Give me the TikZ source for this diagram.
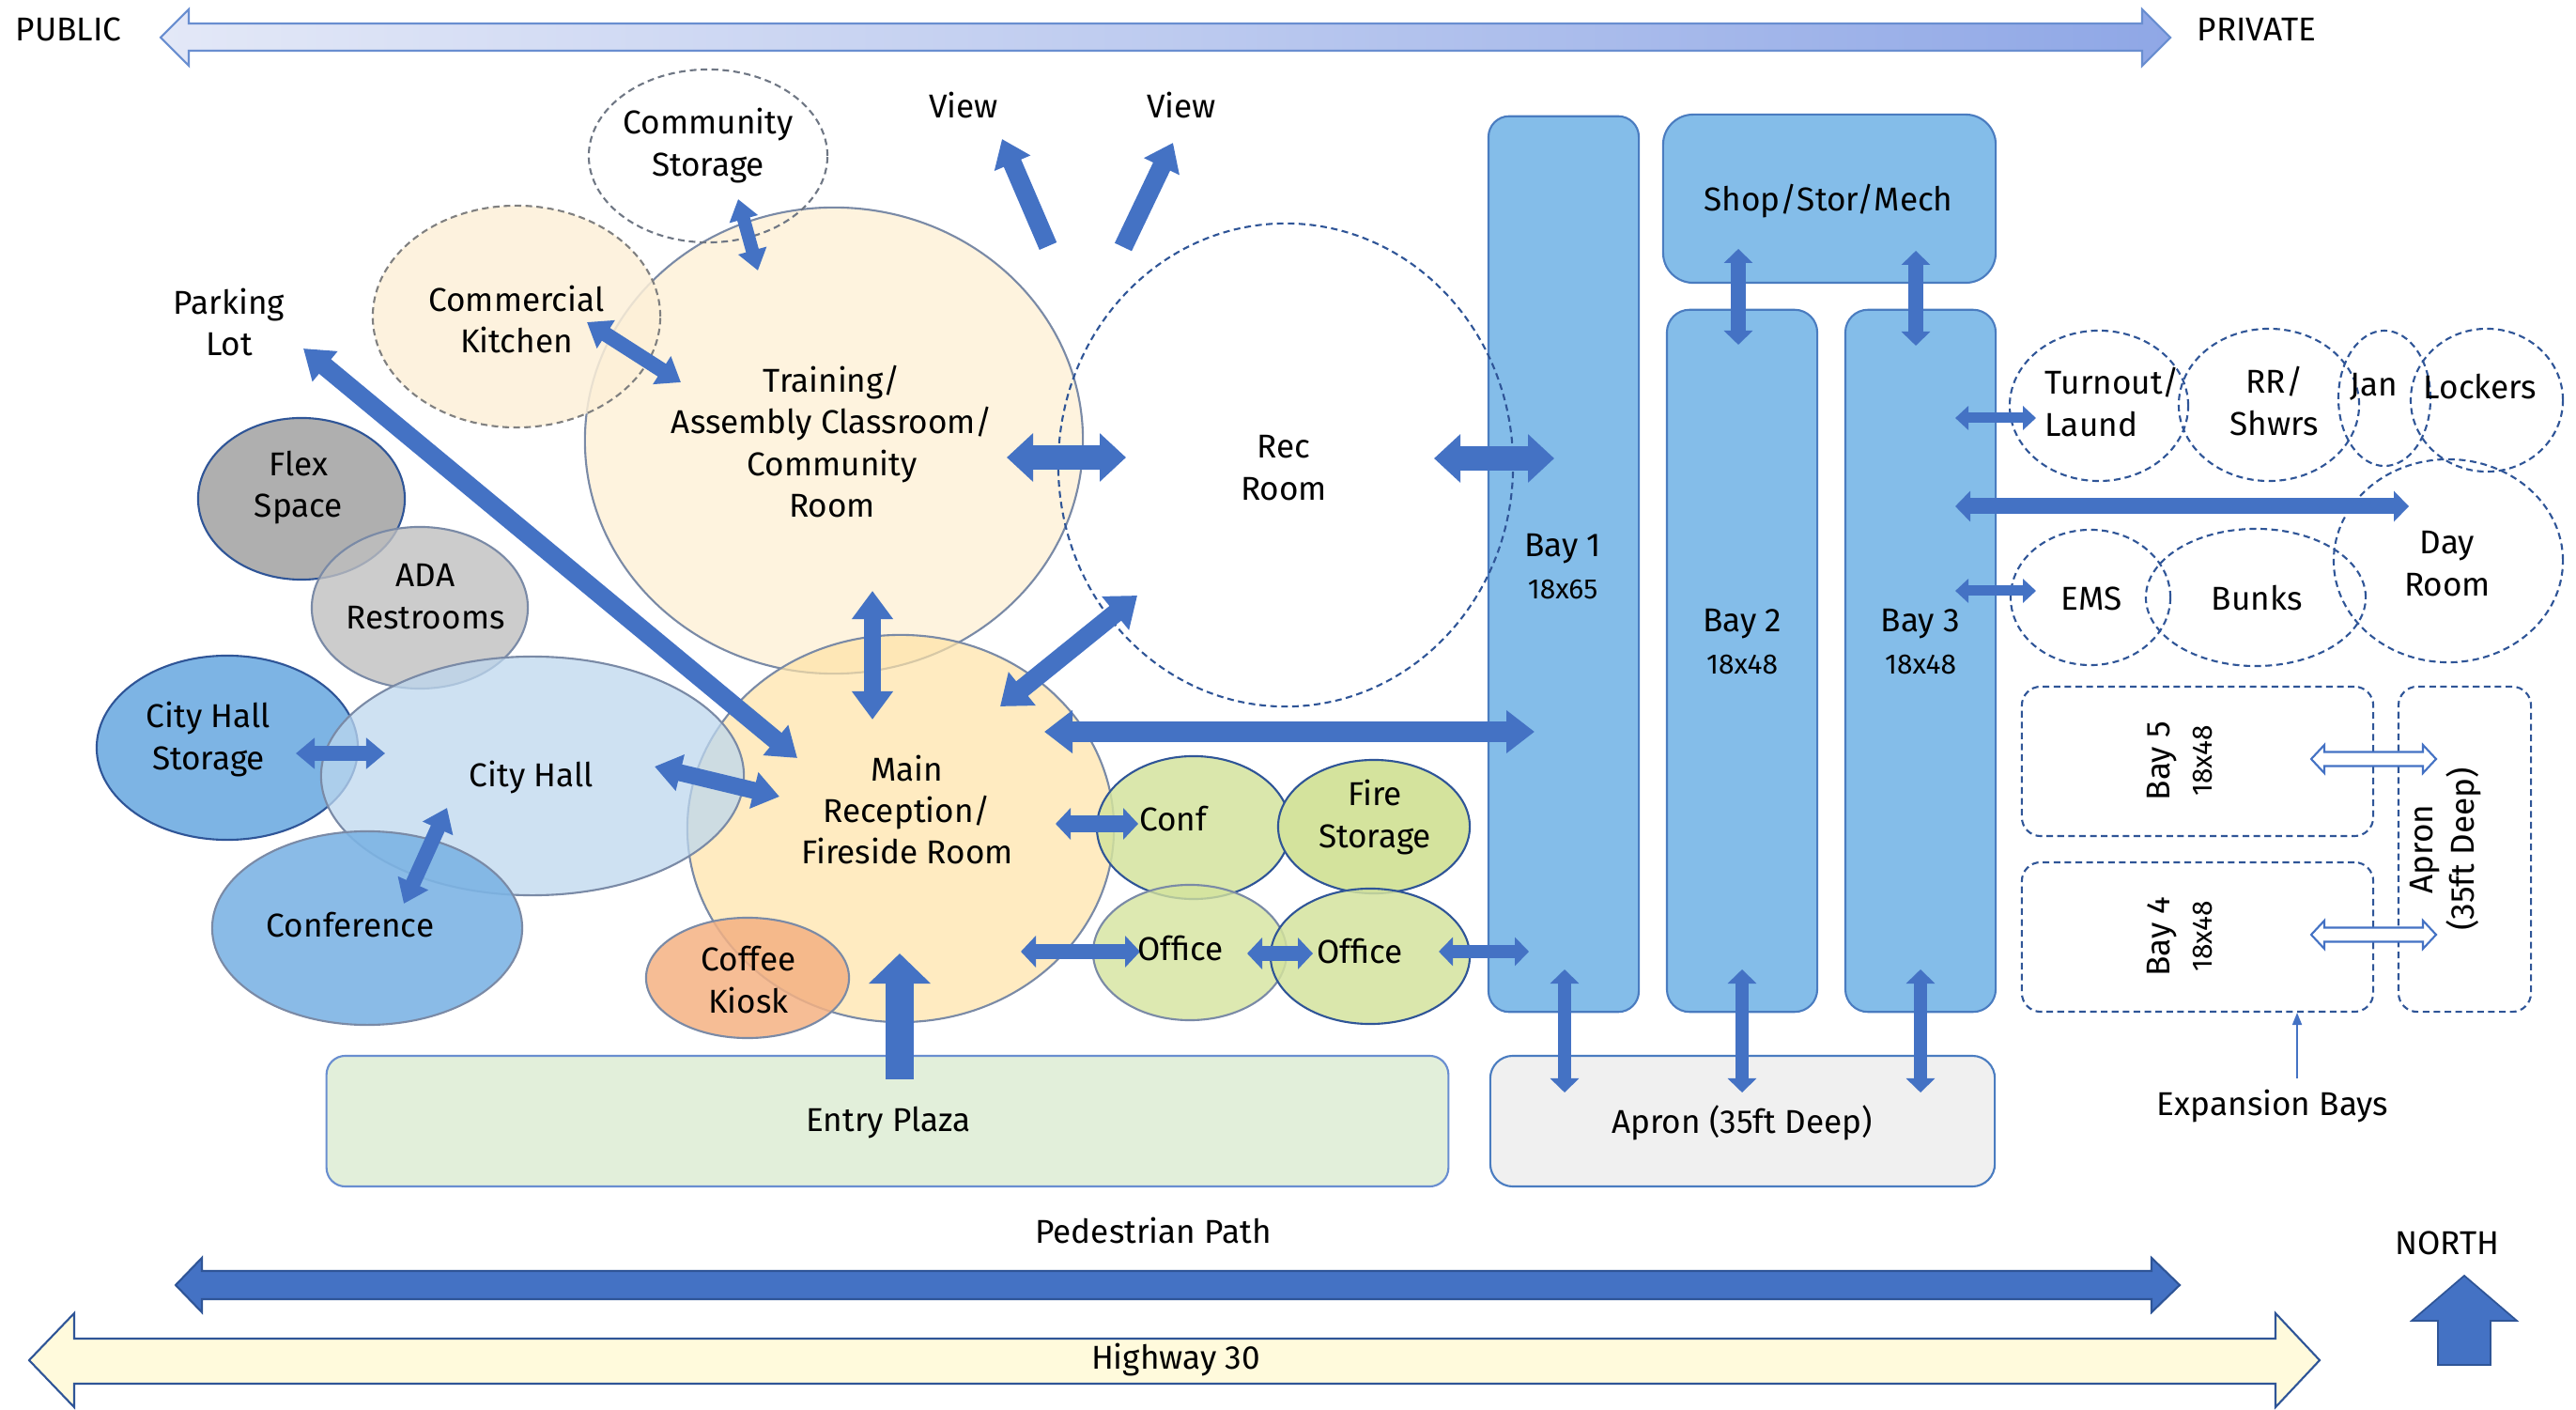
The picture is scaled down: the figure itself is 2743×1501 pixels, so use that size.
\documentclass[tikz,border=0pt]{standalone}
\usepackage{fontspec}
\setmainfont{Fira Sans}
\usetikzlibrary{shapes.geometric,arrows.meta,calc}
\definecolor{ab}{HTML}{4472C4}
\definecolor{edge}{HTML}{7A8AA6}
\definecolor{dk}{HTML}{2F5597}
\definecolor{bayf}{HTML}{84BDE9}
\definecolor{bayd}{HTML}{4A7CC0}
\definecolor{trainf}{HTML}{FEF3DE}
\definecolor{mainf}{HTML}{FFE3A6}
\definecolor{kitf}{HTML}{FDF0D8}
\definecolor{flexf}{HTML}{A6A6A6}
\definecolor{adaf}{HTML}{BFBFBF}
\definecolor{chsf}{HTML}{7DB4E4}
\definecolor{chf}{HTML}{BDD7EE}
\definecolor{coff}{HTML}{F4B183}
\definecolor{grn}{HTML}{D4E39D}
\definecolor{entf}{HTML}{E2EFDA}
\definecolor{aprf}{HTML}{F0F0F0}
\definecolor{hwy}{HTML}{FFFADC}
\definecolor{gl}{HTML}{E3E8F7}
\definecolor{gr}{HTML}{8FA7E6}
\tikzset{
  ell/.style={ellipse, draw=edge, line width=0.6pt},
  dell/.style={ellipse, draw=#1, line width=0.6pt, dash pattern=on 2pt off 1.3pt},
  box/.style={rectangle, draw=bayd, line width=0.6pt},
  dbox/.style={rectangle, draw=dk, line width=0.6pt, dash pattern=on 2pt off 1.3pt, rounded corners=2mm},
  dbl/.style n args={3}{draw=ab, line width=#1, arrows={Triangle[length=#3,width=#2]-Triangle[length=#3,width=#2]}},
  sgl/.style n args={3}{draw=ab, line width=#1, arrows={-Triangle[length=#3,width=#2]}},
  outarr/.style={draw=ab, fill=white, line width=0.6pt, line join=miter},
  txt/.style={font=\fontsize{10}{12.6}\selectfont}
}
\newcommand\smallnum{\fontsize{8.5}{11}\selectfont}
\begin{document}
\begin{tikzpicture}[x=0.01cm,y=-0.01cm, every node/.style={inner sep=0pt, align=center, txt}]
\useasboundingbox (0,0) rectangle (2743,1501);

% ---- public/private gradient arrow
\draw[draw=ab!80, line width=0.6pt, left color=gl, right color=gr, middle color=gl!55!gr]
  (171,40) -- (201,10) -- (201,25) -- (2281,25) -- (2281,10) -- (2311,40) -- (2281,70) -- (2281,54) -- (201,54) -- (201,70) -- cycle;
\node (tPublic) at (73,31) {PUBLIC};
\node (tPrivate) at (2403,31) {PRIVATE};

% ---- ground rectangles
\node[box, draw=ab!80, fill=entf, rounded corners=2mm, minimum width=119.4mm, minimum height=13.9mm] (entry) at (945,1193.5) {};
\node[box, fill=aprf, rounded corners=2.4mm, minimum width=53.7mm, minimum height=13.9mm] (apron) at (1855.5,1193.5) {};

% ---- bays
\node[box, fill=bayf, rounded corners=2.2mm, minimum width=16mm, minimum height=95.3mm] (bay1) at (1665,600.5) {};
\node[box, fill=bayf, rounded corners=3.2mm, minimum width=35.4mm, minimum height=17.9mm] (shop) at (1948,211.5) {};
\node[box, fill=bayf, rounded corners=2.4mm, minimum width=16mm, minimum height=74.7mm] (bay2) at (1855,703.5) {};
\node[box, fill=bayf, rounded corners=2.4mm, minimum width=16mm, minimum height=74.7mm] (bay3) at (2045,703.5) {};

% ---- community side
\node[ell, fill=trainf, minimum width=53mm, minimum height=49.6mm] (train) at (888,469) {};
\node[dell=gray, fill=kitf, fill opacity=0.85, minimum width=30.6mm, minimum height=23.6mm] (kitchen) at (550,337) {};
\node[dell=gray!80!dk, minimum width=25.4mm, minimum height=18.4mm] (commst) at (754,166) {};
\node[ell, fill=mainf, fill opacity=0.7, minimum width=45.4mm, minimum height=41.2mm] (main) at (959,882) {};
\node[dell=dk, minimum width=48.4mm, minimum height=51.4mm] (rec) at (1369,495) {};

\node[ell, draw=dk, fill=flexf, fill opacity=0.9, minimum width=22mm, minimum height=17.2mm] (flex) at (321,531) {};
\node[ell, fill=adaf, fill opacity=0.8, minimum width=23mm, minimum height=17.2mm] (ada) at (447,647) {};
\node[ell, draw=dk, fill=chsf, minimum width=27.8mm, minimum height=19.6mm] (chstor) at (242,796) {};
\node[ell, fill=chf, fill opacity=0.75, minimum width=45mm, minimum height=25.4mm] (cityhall) at (567,826) {};
\node[ell, fill=chsf, fill opacity=0.9, minimum width=33mm, minimum height=20.6mm] (conference) at (391,988) {};
\node[ell, fill=coff, fill opacity=0.85, minimum width=21.6mm, minimum height=12.8mm] (coffee) at (796,1041) {};

\node[ell, draw=dk, fill=grn, fill opacity=0.85, minimum width=20.6mm, minimum height=15.2mm] (conf) at (1271,881) {};
\node[ell, draw=dk, fill=grn, minimum width=20.4mm, minimum height=14.2mm] (firest) at (1463,880) {};
\node[ell, fill=grn, fill opacity=0.8, minimum width=20.6mm, minimum height=14.4mm] (office1) at (1267,1014) {};
\node[ell, draw=dk, fill=grn, fill opacity=0.85, minimum width=21.2mm, minimum height=14.4mm] (office2) at (1459,1018) {};

% ---- fire station side rooms
\node[dell=dk, minimum width=19mm, minimum height=16mm] (turnout) at (2235,432) {};
\node[dell=dk, minimum width=19.2mm, minimum height=16.2mm] (rr) at (2416,431) {};
\node[dell=dk, minimum width=9.8mm, minimum height=14.4mm] (jan) at (2539,424) {};
\node[dell=dk, minimum width=16.2mm, minimum height=15.2mm] (lockers) at (2648,426) {};
\node[dell=dk, minimum width=24.4mm, minimum height=21.6mm] (dayroom) at (2607,597) {};
\node[dell=dk, minimum width=17mm, minimum height=14.4mm] (ems) at (2226,636) {};
\node[dell=dk, minimum width=23.4mm, minimum height=14.6mm] (bunks) at (2402,636) {};

\node[dbox, minimum width=37.4mm, minimum height=15.9mm] (bay5) at (2340,810.5) {};
\node[dbox, minimum width=37.4mm, minimum height=15.9mm] (bay4) at (2340,997.5) {};
\node[dbox, minimum width=14.1mm, minimum height=34.6mm] (apronv) at (2624.5,904) {};

% ---- connector end points
\coordinate (a1s) at (786,212); \coordinate (a1e) at (807,288);
\coordinate (a2s) at (625,343); \coordinate (a2e) at (725,407);
\coordinate (a3s) at (323,371); \coordinate (a3e) at (849,807);
\coordinate (v1s) at (1116,262); \coordinate (v1e) at (1067,148);
\coordinate (v2s) at (1196,263); \coordinate (v2e) at (1249,152);
\coordinate (a6s) at (1072,487); \coordinate (a6e) at (1199,487);
\coordinate (a7s) at (1527,488); \coordinate (a7e) at (1655,488);
\coordinate (a8s) at (929,629); \coordinate (a8e) at (929,766);
\coordinate (a9s) at (1065,752); \coordinate (a9e) at (1211,634);
\coordinate (a10s) at (1112,779); \coordinate (a10e) at (1634,779);
\coordinate (a11s) at (315,802); \coordinate (a11e) at (410,802);
\coordinate (a12s) at (476,860); \coordinate (a12e) at (430,962);
\coordinate (a13s) at (697,816); \coordinate (a13e) at (830,848);
\coordinate (a14s) at (1124,877); \coordinate (a14e) at (1212,877);
\coordinate (a15s) at (1087,1013); \coordinate (a15e) at (1214,1013);
\coordinate (a16s) at (1328,1015); \coordinate (a16e) at (1398,1015);
\coordinate (a17s) at (1532,1013); \coordinate (a17e) at (1628,1013);
\coordinate (a18s) at (958,1149); \coordinate (a18e) at (958,1015);
\coordinate (a19s) at (1851,265); \coordinate (a19e) at (1851,367);
\coordinate (a20s) at (2040,267); \coordinate (a20e) at (2040,368);
\coordinate (a21s) at (2082,445); \coordinate (a21e) at (2168,445);
\coordinate (a22s) at (2082,539); \coordinate (a22e) at (2565,539);
\coordinate (a23s) at (2082,629); \coordinate (a23e) at (2168,629);
\coordinate (a24s) at (1666,1032); \coordinate (a24e) at (1666,1163);
\coordinate (a25s) at (1855,1032); \coordinate (a25e) at (1855,1163);
\coordinate (a26s) at (2045,1032); \coordinate (a26e) at (2045,1163);
\coordinate (e5a) at (2461,808); \coordinate (e5b) at (2594,808);
\coordinate (e4a) at (2461,995); \coordinate (e4b) at (2594,995);
\coordinate (expp) at (2446,1148); \coordinate (expq) at (2446,1078);

% ---- connectors
\draw[dbl={1.4mm}{3mm}{2.2mm}] (a1s) -- (a1e);
\draw[dbl={1.6mm}{3.4mm}{2.4mm}] (a2s) -- (a2e);
\draw[dbl={2mm}{4mm}{3mm}] (a3s) -- (a3e);
\draw[sgl={2mm}{4mm}{2.8mm}] (v1s) -- (v1e);
\draw[sgl={2mm}{4mm}{2.8mm}] (v2s) -- (v2e);
\draw[dbl={2.6mm}{5mm}{2.8mm}] (a6s) -- (a6e);
\draw[dbl={2.6mm}{5mm}{2.8mm}] (a7s) -- (a7e);
\draw[dbl={1.8mm}{4.2mm}{3mm}] (a8s) -- (a8e);
\draw[dbl={2mm}{4.4mm}{3mm}] (a9s) -- (a9e);
\draw[dbl={2.2mm}{4.4mm}{3mm}] (a10s) -- (a10e);
\draw[dbl={1.5mm}{3.2mm}{2mm}] (a11s) -- (a11e);
\draw[dbl={1.6mm}{3.4mm}{2.4mm}] (a12s) -- (a12e);
\draw[dbl={1.8mm}{3.8mm}{2.8mm}] (a13s) -- (a13e);
\draw[dbl={1.7mm}{3.3mm}{1.6mm}] (a14s) -- (a14e);
\draw[dbl={1.6mm}{3.3mm}{1.6mm}] (a15s) -- (a15e);
\draw[dbl={1.6mm}{3.3mm}{1.6mm}] (a16s) -- (a16e);
\draw[dbl={1.4mm}{3mm}{1.5mm}] (a17s) -- (a17e);
\draw[sgl={3mm}{6.4mm}{3.2mm}] (a18s) -- (a18e);
\draw[dbl={1.6mm}{3mm}{1.5mm}] (a19s) -- (a19e);
\draw[dbl={1.6mm}{3mm}{1.5mm}] (a20s) -- (a20e);
\draw[dbl={1.1mm}{2.5mm}{1.4mm}] (a21s) -- (a21e);
\draw[dbl={1.7mm}{3.2mm}{1.6mm}] (a22s) -- (a22e);
\draw[dbl={1.1mm}{2.5mm}{1.4mm}] (a23s) -- (a23e);
\draw[dbl={1.4mm}{3mm}{1.5mm}] (a24s) -- (a24e);
\draw[dbl={1.4mm}{3mm}{1.5mm}] (a25s) -- (a25e);
\draw[dbl={1.4mm}{3mm}{1.5mm}] (a26s) -- (a26e);
\draw[outarr] (e5a) -- ++(14,-15) -- ++(0,7.5) -- ($(e5b)+(-14,-7.5)$) -- ++(0,-7.5) -- (e5b) -- ++(-14,15) -- ++(0,-7.5) -- ($(e5a)+(14,7.5)$) -- ++(0,7.5) -- cycle;
\draw[outarr] (e4a) -- ++(14,-15) -- ++(0,7.5) -- ($(e4b)+(-14,-7.5)$) -- ++(0,-7.5) -- (e4b) -- ++(-14,15) -- ++(0,-7.5) -- ($(e4a)+(14,7.5)$) -- ++(0,7.5) -- cycle;
\draw[ab, line width=0.5pt, -{Triangle[length=1.3mm,width=1mm]}] (expp) -- (expq);

% ---- labels
\node (tCommst) at (754,155) {Community\\Storage};
\node (tView1) at (1026,112) {View};
\node (tView2) at (1258,112) {View};
\node (tKitchen) at (550,340) {Commercial\\Kitchen};
\node (tParking) at (244,343) {Parking\\Lot};
\node (tTrain) at (886,470) {Training/\\Assembly Classroom/\\Community\\Room};
\node (tRec) at (1367,498) {Rec\\Room};
\node (tFlex) at (318,519) {Flex\\Space};
\node (tAda) at (453,635) {ADA\\Restrooms};
\node (tChstor) at (222,787) {City Hall\\Storage};
\node (tCity) at (566,828) {City Hall};
\node (tConference) at (373,985) {Conference};
\node (tMain) at (966,862) {Main\\Reception/\\Fireside Room};
\node (tCoffee) at (797,1043) {Coffee\\Kiosk};
\node (tConf) at (1249,872) {Conf};
\node (tFire) at (1464,870) {Fire\\Storage};
\node (tOffice1) at (1257,1010) {Office};
\node (tOffice2) at (1448,1013) {Office};
\node (tEntry) at (946,1195) {Entry Plaza};
\node (tApron) at (1855,1195) {Apron (35ft Deep)};
\node (tShop) at (1947,214) {Shop/Stor/Mech};
\node (tBay1) at (1664,603) {Bay 1\\\smallnum 18x65};
\node (tBay2) at (1855,683) {Bay 2\\\smallnum 18x48};
\node (tBay3) at (2045,683) {Bay 3\\\smallnum 18x48};
\node[anchor=west, align=left] (tTurn) at (2177,428) {Turnout/\\Laund};
\node (tRR) at (2422,427) {RR/\\Shwrs};
\node (tJan) at (2528,412) {Jan};
\node (tLockers) at (2641,412) {Lockers};
\node (tDay) at (2606,600) {Day\\Room};
\node (tEms) at (2227,637) {EMS};
\node (tBunks) at (2403,637) {Bunks};
\node[rotate=90] (tBay5) at (2321,810) {Bay 5\\\smallnum 18x48};
\node[rotate=90] (tBay4) at (2321,997) {Bay 4\\\smallnum 18x48};
\node[rotate=90] (tApronv) at (2604,904) {Apron\\(35ft Deep)};
\node (tExp) at (2420,1178) {Expansion Bays};

% ---- site edges
\node (tPed) at (1228,1310) {Pedestrian Path};
\draw[draw=dk, line width=0.6pt, fill=ab]
  (187,1368) -- (215,1339) -- (215,1353) -- (2291,1353) -- (2291,1339) -- (2321,1368) -- (2291,1397) -- (2291,1383) -- (215,1383) -- (215,1397) -- cycle;
\draw[draw=dk, line width=0.6pt, fill=hwy]
  (31,1448) -- (79,1398) -- (79,1425) -- (2423,1425) -- (2423,1398) -- (2470,1448) -- (2423,1498) -- (2423,1473) -- (79,1473) -- (79,1498) -- cycle;
\node (tHwy) at (1252,1448) {Highway 30};
\node (tNorth) at (2606,1323) {NORTH};
\draw[draw=dk, line width=0.5pt, fill=ab]
  (2624,1358) -- (2680,1406) -- (2652,1406) -- (2652,1453) -- (2596,1453) -- (2596,1406) -- (2568,1406) -- cycle;
\end{tikzpicture}
\end{document}
